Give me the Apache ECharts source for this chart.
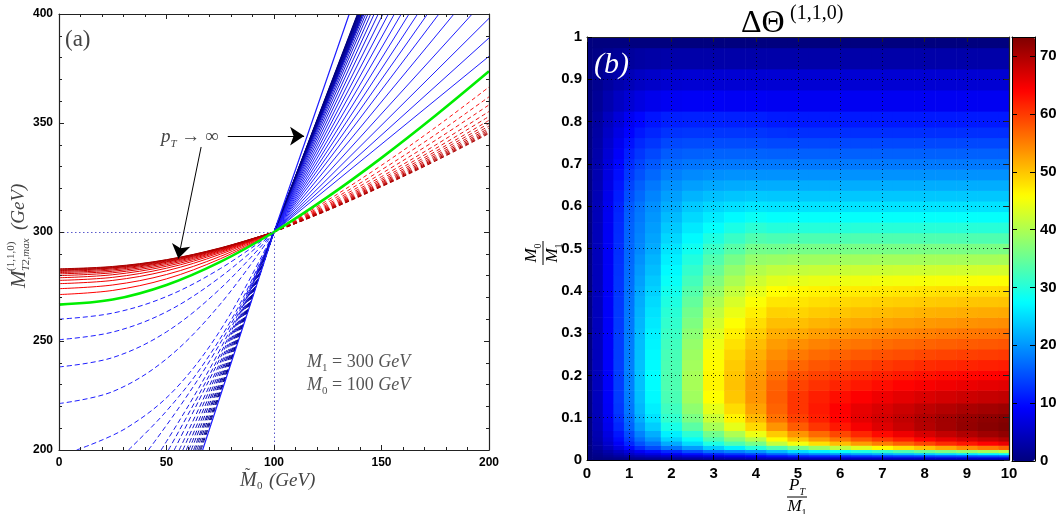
<!DOCTYPE html>
<html>
<head>
<meta charset="utf-8">
<title>MT2 kink and Delta Theta</title>
<script src="https://cdn.jsdelivr.net/npm/echarts/dist/echarts.min.js"></script>
</head>
<body style="margin:0;background:#fff">
<div id="main" style="width:1060px;height:514px;"></div>
<script type="text/javascript">
var myChart = echarts.init(document.getElementById('main'), null, {renderer: 'canvas'});

// ---------- panel (a): MT2 endpoint curves ----------
var greenX = [0, 25, 50, 75, 100, 125, 150, 175, 200];
var greenY = [266.7, 269.0, 275.7, 286.3, 300, 316.1, 334.0, 353.3, 373.7];

// red solid, left of the crossing
var redLeftX = [0, 25, 50, 75, 100];
var redLeftY = [
    [271.3, 273.2, 278.5, 287.7, 300],
    [274.0, 275.7, 280.5, 288.8, 300],
    [276.3, 277.8, 282.2, 289.8, 300],
    [277.8, 279.2, 283.4, 290.5, 300],
    [279.0, 280.4, 284.3, 291.0, 300],
    [280.0, 281.3, 285.0, 291.4, 300],
    [280.8, 282.0, 285.6, 291.7, 300],
    [281.4, 282.6, 286.1, 292.0, 300],
    [281.9, 283.1, 286.4, 292.2, 300],
    [282.3, 283.5, 286.7, 292.4, 300],
    [282.6, 283.7, 287.0, 292.5, 300],
    [282.9, 284.0, 287.2, 292.6, 300],
    [283.1, 284.2, 287.3, 292.7, 300]
];

// red dashed, right of the crossing
var redRightX = [100, 125, 150, 175, 200];
var redRightY = [
    [300, 314.6, 330.6, 347.9, 366.5],
    [300, 313.6, 328.5, 344.6, 362.0],
    [300, 312.8, 326.8, 342.0, 358.3],
    [300, 312.2, 325.4, 339.8, 355.3],
    [300, 311.7, 324.4, 338.2, 353.0],
    [300, 311.3, 323.6, 336.9, 351.2],
    [300, 311.0, 322.9, 335.9, 349.8],
    [300, 310.7, 322.4, 335.0, 348.6],
    [300, 310.5, 321.9, 334.3, 347.6],
    [300, 310.3, 321.5, 333.7, 346.8],
    [300, 310.1, 321.2, 333.2, 346.1],
    [300, 310.0, 321.0, 332.8, 345.6],
    [300, 309.9, 320.8, 332.5, 345.2]
];

// blue dashed, left of the crossing
var blueLeftCurves = [
    [[0, 260.0], [25, 262.8], [50, 270.4], [75, 283.2], [100, 300]],
    [[0, 250.6], [25, 254.1], [50, 263.4], [75, 279.3], [100, 300]],
    [[0, 238.1], [25, 242.4], [50, 254.2], [75, 274.0], [100, 300]],
    [[0, 221.3], [25, 226.8], [50, 241.8], [75, 266.9], [100, 300]],
    [[8.2, 200], [31.2, 210], [54.1, 228], [77.0, 258], [100, 300]],
    [[32.3, 200], [49.2, 217], [66.2, 238], [83.1, 265], [100, 300]],
    [[41.6, 200], [56.2, 220], [70.8, 242], [85.4, 268], [100, 300]],
    [[47.5, 200], [60.6, 221], [73.8, 244], [86.9, 270], [100, 300]],
    [[50.9, 200], [63.2, 222], [75.5, 245], [87.7, 271], [100, 300]],
    [[53.6, 200], [65.2, 223], [76.8, 246], [88.4, 272], [100, 300]],
    [[55.9, 200], [78.0, 247.0], [100, 300]],
    [[57.6, 200], [78.8, 247.5], [100, 300]],
    [[59.2, 200], [79.6, 248.0], [100, 300]],
    [[60.4, 200], [80.2, 248.0], [100, 300]],
    [[61.5, 200], [80.8, 248.5], [100, 300]],
    [[62.6, 200], [81.3, 248.5], [100, 300]],
    [[63.3, 200], [81.7, 249.0], [100, 300]],
    [[64.1, 200], [82.1, 249.0], [100, 300]],
    [[64.9, 200], [82.5, 249.0], [100, 300]],
    [[65.5, 200], [82.8, 249.5], [100, 300]],
    [[66.0, 200], [83.0, 249.5], [100, 300]]
];

// blue solid, right of the crossing: straight from (100, 300) to these ends
var blueRightEnds = [
    [200, 380.6], [200, 389.0], [200, 398.0], [192.2, 400], [183.7, 400],
    [176.7, 400], [171.4, 400], [166.8, 400], [162.8, 400], [159.2, 400],
    [156.0, 400], [153.2, 400], [150.7, 400], [148.5, 400], [146.6, 400],
    [145.0, 400], [143.7, 400], [142.7, 400], [141.9, 400], [141.4, 400],
    [141.2, 400], [141.0, 400], [140.8, 400], [140.6, 400], [140.4, 400],
    [140.2, 400], [140.0, 400], [139.8, 400], [139.6, 400], [139.4, 400],
    [139.2, 400], [139.0, 400], [138.8, 400]
];

// pT -> infinity limit
var limitLine = [[66.8, 200], [100, 300], [135, 400]];

// ---------- panel (b): Delta Theta ----------
var thetaX = [0, 0.25, 0.5, 0.75, 1, 1.25, 1.5, 2, 2.5, 3, 3.5, 4, 4.5, 5, 5.5, 6, 6.5, 7, 7.5, 8, 8.5, 9, 9.5, 10];
var thetaY = [0, 0.005, 0.01, 0.015, 0.02, 0.03, 0.04, 0.05, 0.06, 0.08, 0.1, 0.12, 0.15, 0.18, 0.2,
              0.225, 0.25, 0.275, 0.3, 0.325, 0.35, 0.375, 0.4, 0.425, 0.45, 0.475, 0.5,
              0.525, 0.55, 0.575, 0.6, 0.625, 0.65, 0.675, 0.7, 0.725, 0.75, 0.775, 0.8,
              0.85, 0.9, 0.95, 1];
// one column per thetaX entry, values from y = 0 up to y = 1
var thetaCols = [
    [0,0,0,0,0,0,0,0,0,0,0,0,0,0,0, 0,0,0,0,0,0,0,0,0,0,0,0, 0,0,0,0,0,0,0,0,0,0,0,0, 0,0,0,0],
    [0,0.3,0.7,1.1,1.5,2.2,2.8,3.2,3.5,3.9,4.1,4.25,4.35,4.4,4.4, 4.4,4.4,4.4,4.4,4.38,4.35,4.35,4.35,4.32,4.3,4.3,4.3, 4.25,4.2,4.1,4,3.85,3.7,3.5,3.3,3.05,2.8,2.55,2.3, 1.7,1.2,0.6,0],
    [0,0.6,1.4,2.3,3.1,4.5,5.6,6.4,7,7.8,8.2,8.5,8.7,8.8,8.8, 8.8,8.8,8.8,8.8,8.75,8.7,8.7,8.65,8.6,8.6,8.55,8.5, 8.4,8.3,8.15,8,7.7,7.4,7,6.6,6.1,5.6,5.05,4.5, 3.4,2.3,1.2,0],
    [0,0.9,2.2,3.5,4.8,7,8.6,9.8,10.7,11.9,12.6,13.1,13.4,13.5,13.5, 13.5,13.5,13.45,13.4,13.3,13.2,13.1,13,12.9,12.8,12.65,12.5, 12.35,12.2,11.9,11.6,11.15,10.7,10.1,9.5,8.75,8,7.2,6.4, 4.8,3.2,1.7,0],
    [0,1.2,3,4.8,6.6,9.6,11.8,13.4,14.6,16.2,17.1,17.7,18.1,18.3,18.3, 18.3,18.2,18.1,18,17.85,17.7,17.5,17.3,17.1,16.9,16.7,16.5, 16.35,16.2,15.85,15.5,14.75,14,13.15,12.3,11.3,10.3,9.25,8.2, 6,4,2.1,0],
    [0,1.5,3.7,6,8.3,12.2,15,17,18.6,20.5,21.7,22.4,22.9,23.1,23.1, 23.1,23,22.8,22.6,22.3,22,21.6,21.2,20.7,20.2,19.6,19, 18.65,18.3,17.9,17.5,16.75,16,15,14,13,12,10.75,9.5, 7,4.8,2.5,0],
    [0,1.8,4.3,7,10,14.5,17.5,20,21.7,24,25.5,26.4,27.1,27.4,27.4, 27.3,27.1,26.8,26.5,26,25.5,24.9,24.3,23.6,22.8,22.2,21.5, 21,20.5,20,19.5,18.65,17.8,16.65,15.5,14.25,13,11.75,10.5, 7.8,5.3,2.8,0],
    [0,2,5,8.5,12,17.5,21.5,24.5,26.5,29.2,31,32,32.8,33.1,33.1, 32.9,32.6,32.1,31.6,31,30.4,29.6,28.8,28,27.2,26.4,25.6, 24.6,23.6,22.6,21.6,20.6,19.6,18.3,17,15.7,14.3,12.8,11.3, 8.3,5.8,3,0],
    [0,2.5,6,10,14.5,20.5,25,28,30.5,34,36.3,37.8,39,39.5,39.5, 39.2,38.8,38.2,37.5,36.6,35.7,34.6,33.5,32.3,31.1,29.8,28.5, 27.2,26,24.8,23.6,22.1,20.6,19.1,17.6,16.1,14.6,13,11.5, 8.5,6,3,0],
    [0,3,7,11.5,17,24,29.5,33,35.7,39.5,42,44,45.8,46.5,46.4, 46,45.4,44.6,43.6,42.5,41.2,39.8,38.3,36.7,35,33.3,31.6, 29.6,27.7,26.1,24.6,22.9,21.2,19.5,17.8,16.2,14.6,13,11.5, 8.5,6,3,0],
    [0,3.5,8,12.8,18.5,26.5,33,37,40,44,46.7,48.3,49.8,50.2,50, 49.5,48.8,47.9,46.9,45.7,44.4,43,41.5,39.8,38,36,33.8, 31.5,29.3,27.2,25.2,23.3,21.5,19.7,17.9,16.2,14.6,13,11.4, 8.4,6,3,0],
    [0,4,9,14,20,30,36,40.5,44.5,48.5,51,52.5,53.5,53.5,53, 52.3,51.5,50.5,49.4,48.2,46.9,45.5,44,42.2,40.3,38.2,35.8, 33.2,30.6,28.1,25.7,23.6,21.6,19.7,17.9,16.2,14.5,12.9,11.3, 8.4,6,3,0],
    [0,4.3,10,16,22.5,33,41.5,46,49.5,53.5,56,57,57.5,57,56, 55,54,52.9,51.7,50.4,49,47.5,45.8,43.7,41.3,38.5,35.6, 32.8,30,27.7,25.5,23.5,21.6,19.7,17.9,16.1,14.3,12.6,11, 8.2,6,3,0],
    [0,4.6,11,18,25,36,45,50,53.5,57.5,59.5,60.3,60.3,59.3,58.3, 56.8,55.4,53.8,52,50.4,48.9,47.6,46.3,44,41.5,38.8,36, 33,30.1,27.8,25.5,23.5,21.6,19.7,17.9,16.1,14.3,12.5,10.9, 8.2,6,3,0],
    [0,4.8,11.5,19,26.5,38.5,48,53,56.5,60.3,62,62.4,62,60.6,59.4, 57.9,56.4,54.7,52.8,51.1,49.5,48.1,46.7,44.3,41.7,38.9,36, 33,30.1,27.8,25.5,23.5,21.6,19.7,17.9,16.1,14.3,12.5,10.9, 8.2,6,3,0],
    [0,5,12,20,28,41,50.5,55.5,59,62.5,64,64.2,63.2,61.6,60.3, 58.7,57.1,55.3,53.4,51.7,50,48.5,47,44.5,41.9,39,36, 33,30.1,27.8,25.5,23.5,21.6,19.7,17.9,16.1,14.3,12.5,10.9, 8.2,6,3,0],
    [0,5.1,12.5,21,29.5,43.5,53,58,61.5,64.8,66,65.8,64.3,62.5,61.1, 59.4,57.7,55.8,53.9,52.1,50.4,48.8,47.2,44.7,42,39.1,36.1, 33.1,30.2,27.8,25.5,23.5,21.6,19.7,17.9,16.1,14.3,12.5,10.9, 8.2,6,3,0],
    [0,5.2,13,22,31,46,55,60,63.5,66.5,67.3,66.8,65.2,63.3,61.8, 60,58.2,56.3,54.4,52.5,50.7,49.1,47.4,44.9,42.1,39.2,36.1, 33.1,30.2,27.8,25.5,23.5,21.6,19.7,17.9,16.1,14.3,12.5,10.9, 8.2,6,3,0],
    [0,5.3,13.4,23,33,48,57,62,65.3,68,68.6,67.8,66,64,62.4, 60.5,58.6,56.7,54.7,52.8,51,49.3,47.6,45,42.2,39.2,36.1, 33.1,30.2,27.8,25.5,23.5,21.6,19.7,17.9,16.1,14.3,12.5,10.9, 8.2,6,3,0],
    [0,5.4,13.8,24,35,50,59,64,67,69.5,69.8,68.8,66.7,64.6,63, 61,59,57,55,53.1,51.3,49.5,47.8,45.2,42.3,39.3,36.2, 33.1,30.2,27.8,25.5,23.5,21.6,19.7,17.9,16.1,14.3,12.5,10.9, 8.2,6,3,0],
    [0,5.5,14.2,25,36.5,52,61,65.7,68.5,70.7,70.8,69.5,67.3,65.1,63.4, 61.3,59.3,57.3,55.3,53.3,51.5,49.7,48,45.3,42.4,39.3,36.2, 33.1,30.2,27.8,25.5,23.5,21.6,19.7,17.9,16.1,14.3,12.5,10.9, 8.2,6,3,0],
    [0,5.6,14.5,26,38,54,62.5,67,69.8,71.8,71.6,70.2,67.8,65.5,63.7, 61.6,59.6,57.6,55.6,53.6,51.7,49.9,48.1,45.4,42.5,39.4,36.2, 33.1,30.2,27.8,25.5,23.5,21.6,19.7,17.9,16.1,14.3,12.5,10.9, 8.2,6,3,0],
    [0,5.7,14.8,27,39.5,55.5,64,68.3,71,72.6,72.2,70.7,68.2,65.9,64, 61.9,59.8,57.8,55.8,53.8,51.8,50,48.2,45.5,42.6,39.4,36.2, 33.1,30.2,27.8,25.5,23.5,21.6,19.7,17.9,16.1,14.3,12.5,10.9, 8.2,6,3,0],
    [0,5.8,15,28,41,57,65.5,69.5,72,73.2,72.8,71.2,68.6,66.2,64.3, 62.1,60,58,56,54,52,50.1,48.3,45.6,42.7,39.5,36.3, 33.1,30.2,27.8,25.5,23.5,21.6,19.7,17.9,16.1,14.3,12.5,10.9, 8.2,6,3,0]
];
var thetaMax = 73.3;
var colorbarTicks = [0, 10, 20, 30, 40, 50, 60, 70];

// ---------- build ----------
var serif = '"Liberation Serif", "DejaVu Serif", serif';
var sans = '"Liberation Sans", Arial, sans-serif';
var jet = ['#00007f', '#0000ff', '#007fff', '#00ffff', '#7fff7f', '#ffff00', '#ff7f00', '#ff0000', '#7f0000'];

function mix(c1, c2, t) {
    var r = Math.round(c1[0] + (c2[0] - c1[0]) * t);
    var g = Math.round(c1[1] + (c2[1] - c1[1]) * t);
    var b = Math.round(c1[2] + (c2[2] - c1[2]) * t);
    return 'rgb(' + r + ',' + g + ',' + b + ')';
}

function curve(data, color, width, dash, z, smooth) {
    return {
        type: 'line', xAxisIndex: 0, yAxisIndex: 0, data: data,
        smooth: smooth === undefined ? 0.35 : smooth,
        symbol: 'none', silent: true, z: z || 2,
        lineStyle: {color: color, width: width, type: dash || 'solid'}
    };
}

function zip(xs, ys) {
    return xs.map(function (x, i) { return [x, ys[i]]; });
}

var series = [];

blueLeftCurves.forEach(function (pts, k) {
    var t = k < 5 ? 0 : (k - 4) / (blueLeftCurves.length - 4);
    series.push(curve(pts, mix([30, 30, 255], [0, 0, 120], t), 1, [5, 3], 2));
});
blueRightEnds.forEach(function (end, k) {
    var t = k < 10 ? 0 : (k - 9) / (blueRightEnds.length - 9);
    series.push(curve([[100, 300], end], mix([30, 30, 255], [0, 0, 120], t), 1, 'solid', 2, false));
});
series.push(curve(limitLine, '#1e1eff', 1.2, 'solid', 2, false));

redLeftY.forEach(function (ys, k) {
    var t = k / (redLeftY.length - 1);
    series.push(curve(zip(redLeftX, ys), mix([255, 0, 0], [170, 0, 0], t), 1, 'solid', 3));
});
redRightY.forEach(function (ys, k) {
    var t = k / (redRightY.length - 1);
    series.push(curve(zip(redRightX, ys), mix([255, 20, 20], [170, 0, 0], t), 1, [4, 3], 3));
});

var green = curve(zip(greenX, greenY), '#00ee00', 2.6, 'solid', 4);
green.markLine = {
    silent: true, animation: false, symbol: ['none', 'none'],
    label: {show: false},
    lineStyle: {color: '#5a5acc', width: 1, type: [1.5, 2.5]},
    data: [
        [{coord: [0, 300]}, {coord: [100, 300]}],
        [{coord: [100, 200]}, {coord: [100, 300]}]
    ]
};
series.push(green);

// arrows for the pT -> infinity annotation
series.push({
    type: 'line', xAxisIndex: 0, yAxisIndex: 0, data: [], silent: true, z: 5,
    markLine: {
        silent: true, animation: false, symbol: ['none', 'arrow'], symbolSize: 14,
        label: {show: false},
        lineStyle: {color: '#000', width: 1, type: 'solid'},
        data: [
            [{coord: [78.5, 344]}, {coord: [114, 344]}],
            [{coord: [66.1, 339]}, {coord: [55.5, 287.8]}]
        ]
    }
});

// heat map cells: each read value fills the cell around its grid node
var heatData = [];
var nx = thetaX.length, ny = thetaY.length;
for (var i = 0; i < nx; i++) {
    var x0 = i === 0 ? thetaX[0] : (thetaX[i - 1] + thetaX[i]) / 2;
    var x1 = i === nx - 1 ? thetaX[nx - 1] : (thetaX[i] + thetaX[i + 1]) / 2;
    for (var j = 0; j < ny; j++) {
        var y0 = j === 0 ? thetaY[0] : (thetaY[j - 1] + thetaY[j]) / 2;
        var y1 = j === ny - 1 ? thetaY[ny - 1] : (thetaY[j] + thetaY[j + 1]) / 2;
        heatData.push([x0, y0, x1, y1, thetaCols[i][j]]);
    }
}
var heatIndex = series.length;
series.push({
    type: 'custom', xAxisIndex: 2, yAxisIndex: 2, silent: true, z: 1,
    encode: {x: [0, 2], y: [1, 3]},
    data: heatData,
    renderItem: function (params, api) {
        var a = api.coord([api.value(0), api.value(1)]);
        var b = api.coord([api.value(2), api.value(3)]);
        return {
            type: 'rect',
            shape: {x: a[0], y: b[1], width: b[0] - a[0] + 0.6, height: a[1] - b[1] + 0.6},
            style: {fill: api.visual('color')}
        };
    }
});

function tickOnlyAxis(grid, pos, min, max, interval, minor) {
    return {
        type: 'value', gridIndex: grid, position: pos, min: min, max: max, interval: interval, z: 10,
        axisLine: {show: true, onZero: false, lineStyle: {color: '#222', width: 1.2}},
        axisTick: {show: true, inside: true, length: 5, lineStyle: {color: '#222'}},
        minorTick: {show: !!minor, splitNumber: minor || 5, length: 3, lineStyle: {color: '#222'}},
        axisLabel: {show: false}, splitLine: {show: false}
    };
}

function boldLabel(size, margin) {
    return {show: true, fontFamily: sans, fontWeight: 'bold', fontSize: size, color: '#000', margin: margin,
            showMinLabel: true, showMaxLabel: true};
}

var dotted = {show: true, lineStyle: {color: '#000', width: 1, type: [1, 3], opacity: 0.75}};

function mathText(x, y, text, size, color, align) {
    return {type: 'text', x: x, y: y, style: {
        text: text, align: align || 'left', verticalAlign: 'middle',
        fontFamily: serif, fontSize: size, fill: color,
        rich: {
            i: {fontFamily: serif, fontStyle: 'italic', fontSize: size, fill: color, lineHeight: size + 6},
            s: {fontFamily: serif, fontSize: Math.round(size * 0.6), fill: color, lineHeight: size + 6, verticalAlign: 'bottom'},
            si: {fontFamily: serif, fontStyle: 'italic', fontSize: Math.round(size * 0.6), fill: color, lineHeight: size + 6, verticalAlign: 'bottom'}
        }
    }};
}

var option = {
    animation: false,
    backgroundColor: '#fff',
    grid: [
        {left: 59, top: 14, width: 430, height: 436},
        {left: 587, top: 37, width: 422, height: 423},
        {left: 1012, top: 37, width: 23, height: 424}
    ],
    xAxis: [
        {type: 'value', gridIndex: 0, min: 0, max: 200, interval: 50, z: 10,
         axisLine: {onZero: false, lineStyle: {color: '#222', width: 1.2}},
         axisTick: {inside: true, length: 5, lineStyle: {color: '#222'}},
         minorTick: {show: true, splitNumber: 5, length: 3, lineStyle: {color: '#222'}},
         axisLabel: boldLabel(12, 7), splitLine: {show: false}},
        tickOnlyAxis(0, 'top', 0, 200, 50, 5),
        {type: 'value', gridIndex: 1, min: 0, max: 10, interval: 1, z: 10,
         axisLine: {onZero: false, lineStyle: {color: '#000', width: 1}},
         axisTick: {inside: true, length: 5, lineStyle: {color: '#000'}},
         axisLabel: boldLabel(15, 6), splitLine: dotted},
        tickOnlyAxis(1, 'top', 0, 10, 1, 0),
        {type: 'value', gridIndex: 2, min: 0, max: 1, z: 10,
         axisLine: {onZero: false, lineStyle: {color: '#000', width: 1}},
         axisTick: {show: false}, axisLabel: {show: false}, splitLine: {show: false}},
        {type: 'value', gridIndex: 2, position: 'top', min: 0, max: 1, z: 10,
         axisLine: {onZero: false, lineStyle: {color: '#000', width: 1}},
         axisTick: {show: false}, axisLabel: {show: false}, splitLine: {show: false}}
    ],
    yAxis: [
        {type: 'value', gridIndex: 0, min: 200, max: 400, interval: 50, z: 10,
         axisLine: {show: true, onZero: false, lineStyle: {color: '#222', width: 1.2}},
         axisTick: {show: true, inside: true, length: 5, lineStyle: {color: '#222'}},
         minorTick: {show: true, splitNumber: 5, length: 3, lineStyle: {color: '#222'}},
         axisLabel: boldLabel(12, 6), splitLine: {show: false}},
        tickOnlyAxis(0, 'right', 200, 400, 50, 5),
        {type: 'value', gridIndex: 1, min: 0, max: 1, interval: 0.1, z: 10,
         axisLine: {show: true, onZero: false, lineStyle: {color: '#000', width: 1}},
         axisTick: {show: true, inside: true, length: 5, lineStyle: {color: '#000'}},
         axisLabel: Object.assign(boldLabel(15, 5), {formatter: function (v) { return String(+v.toFixed(1)); }}),
         splitLine: dotted},
        tickOnlyAxis(1, 'right', 0, 1, 0.1, 0),
        {type: 'value', gridIndex: 2, position: 'right', min: 0, max: thetaMax, interval: 10, z: 10,
         axisLine: {show: true, onZero: false, lineStyle: {color: '#000', width: 1}},
         axisTick: {show: true, inside: true, length: 5, lineStyle: {color: '#000'}},
         axisLabel: Object.assign(boldLabel(15, 5), {
             showMaxLabel: false,
             formatter: function (v) { return colorbarTicks.indexOf(v) >= 0 ? String(v) : ''; }
         }),
         splitLine: {show: false}},
        {type: 'value', gridIndex: 2, position: 'left', min: 0, max: thetaMax, interval: 10, z: 10,
         axisLine: {show: true, onZero: false, lineStyle: {color: '#000', width: 1}},
         axisTick: {show: true, inside: true, length: 5, lineStyle: {color: '#000'}},
         axisLabel: {show: false}, splitLine: {show: false}}
    ],
    visualMap: {
        type: 'continuous', seriesIndex: heatIndex, dimension: 4,
        min: 0, max: thetaMax, calculable: false, hoverLink: false,
        left: 1012, top: 37, itemWidth: 23, itemHeight: 424, padding: 0,
        text: null, showLabel: false,
        inRange: {color: jet}
    },
    graphic: [
        {type: 'text', x: 65, y: 40, z: 20,
         style: {text: '(a)', fontFamily: serif, fontSize: 23, fill: '#444', align: 'left', verticalAlign: 'middle'}},
        mathText(161, 137, '{i|p}{si|T} \u2192 \u221e', 19, '#444'),
        mathText(307, 362, '{i|M}{s|1} = 300 {i|GeV}', 18, '#555'),
        mathText(307, 385, '{i|M}{s|0} = 100 {i|GeV}', 18, '#555'),
        {type: 'group', x: 19, y: 288, rotation: Math.PI / 2, z: 20, children: [
            {type: 'text', x: 0, y: 0, style: {text: 'M', fontFamily: serif, fontStyle: 'italic', fontSize: 21, fill: '#444', align: 'left', verticalAlign: 'middle'}},
            {type: 'text', x: 17, y: -8, style: {text: '(1,1,0)', fontFamily: serif, fontSize: 11, fill: '#444', align: 'left', verticalAlign: 'middle'}},
            {type: 'text', x: 17, y: 7, style: {text: 'T2,max', fontFamily: serif, fontStyle: 'italic', fontSize: 11, fill: '#444', align: 'left', verticalAlign: 'middle'}},
            {type: 'text', x: 58, y: 0, style: {text: '(GeV)', fontFamily: serif, fontStyle: 'italic', fontSize: 19, fill: '#444', align: 'left', verticalAlign: 'middle'}}
        ]},
        {type: 'group', x: 240, y: 481, z: 20, children: [
            {type: 'text', x: 0, y: 0, style: {text: 'M', fontFamily: serif, fontStyle: 'italic', fontSize: 20, fill: '#444', align: 'left', verticalAlign: 'middle'}},
            {type: 'text', x: 5, y: -6, style: {text: '\u02dc', fontFamily: serif, fontSize: 16, fill: '#444', align: 'left', verticalAlign: 'middle'}},
            {type: 'text', x: 17, y: 5, style: {text: '0', fontFamily: serif, fontSize: 11, fill: '#444', align: 'left', verticalAlign: 'middle'}},
            {type: 'text', x: 29, y: 0, style: {text: '(GeV)', fontFamily: serif, fontStyle: 'italic', fontSize: 19, fill: '#444', align: 'left', verticalAlign: 'middle'}}
        ]},
        {type: 'group', x: 741, y: 24, z: 20, children: [
            {type: 'text', x: 0, y: 0, style: {text: '\u0394\u0398', fontFamily: serif, fontSize: 32, fill: '#000', align: 'left', verticalAlign: 'middle'}},
            {type: 'text', x: 49, y: -10, style: {text: '(1,1,0)', fontFamily: serif, fontSize: 20, fill: '#000', align: 'left', verticalAlign: 'middle'}}
        ]},
        {type: 'text', x: 594, y: 65, z: 20,
         style: {text: '(b)', fontFamily: serif, fontStyle: 'italic', fontSize: 30, fill: '#fff', align: 'left', verticalAlign: 'middle'}},
        {type: 'group', x: 797, y: 497, z: 20, children: [
            mathText(0, -11, '{i|P}{si|T}', 17, '#000', 'center'),
            {type: 'line', shape: {x1: -10, y1: 0, x2: 10, y2: 0}, style: {stroke: '#000', lineWidth: 1}},
            mathText(0, 10, '{i|M}{s|1}', 17, '#000', 'center')
        ]},
        {type: 'group', x: 543, y: 253, rotation: Math.PI / 2, z: 20, children: [
            mathText(0, -11, '{i|M}{s|0}', 17, '#000', 'center'),
            {type: 'line', shape: {x1: -12, y1: 0, x2: 12, y2: 0}, style: {stroke: '#000', lineWidth: 1}},
            mathText(0, 10, '{i|M}{s|1}', 17, '#000', 'center')
        ]}
    ],
    series: series
};

myChart.setOption(option);
</script>
</body>
</html>
